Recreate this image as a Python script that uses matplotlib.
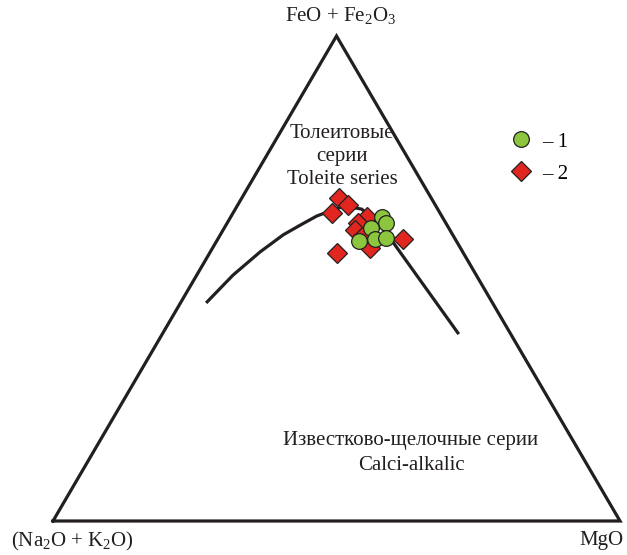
import numpy as np
import matplotlib.pyplot as plt

# AFM diagram: F = FeO + Fe2O3, A = Na2O + K2O, M = MgO (percent)
grp1_F = [62.7, 61.4, 60.4, 57.7, 58.1, 58.4]
grp1_A = [10.6, 10.6, 13.7, 17.2, 14.2, 12.1]
grp1_M = [26.7, 28.0, 25.9, 25.1, 27.7, 29.5]

grp2_F = [66.6, 65.2, 63.5, 62.7, 61.4, 60.0, 56.3, 58.1, 55.3, 58.6]
grp2_A = [16.3, 15.4, 19.1, 13.2, 15.5, 16.7, 15.9, 9.3, 22.2, 16.2]
grp2_M = [17.1, 19.4, 17.4, 24.1, 23.1, 23.3, 27.8, 32.6, 22.5, 25.2]

# tholeiite / calc-alkaline boundary
line_F = [45.2, 50.7, 55.5, 59.0, 61.0, 62.9, 63.9, 64.9, 64.3, 61.6, 57.5, 38.8]
line_A = [50.2, 42.9, 35.7, 29.9, 25.9, 22.0, 19.2, 16.0, 13.4, 11.9, 11.3, 9.2]
line_M = [4.6, 6.4, 8.8, 11.1, 13.1, 15.1, 16.9, 19.0, 22.3, 26.5, 31.2, 52.0]

plt.rcParams['font.family'] = ['Liberation Serif', 'DejaVu Serif']
plt.rcParams['mathtext.fontset'] = 'custom'
plt.rcParams['mathtext.rm'] = 'Liberation Serif'
plt.rcParams['mathtext.it'] = 'Liberation Serif:italic'

h = np.sqrt(3) / 2


def tern(F, A, M):
    F, A, M = np.asarray(F, float), np.asarray(A, float), np.asarray(M, float)
    s = F + A + M
    F, M = F / s, M / s
    return M + F / 2, F * h


W, H = 627, 555
fig = plt.figure(figsize=(W / 100, H / 100), dpi=100)
ax = fig.add_axes([0, 0, 1, 1])
sx = 567
sy = 485 / h
ax.set_xlim(-53 / sx, (W - 53) / sx)
ax.set_ylim(-(H - 521) / sy, 521 / sy)
ax.axis('off')

dark = '#231f20'
tx, ty = tern([0, 0, 100, 0], [100, 0, 0, 100], [0, 100, 0, 0])
ax.plot(tx, ty, color=dark, lw=2.3, solid_joinstyle='miter', zorder=1)

lx, ly = tern(line_F, line_A, line_M)
ax.plot(lx, ly, color=dark, lw=2.3, zorder=2, solid_joinstyle='round')

x2, y2 = tern(grp2_F, grp2_A, grp2_M)
ax.plot(x2, y2, 'D', ms=10.3, mfc='#e0261f', mec=dark, mew=0.9, ls='none',
        zorder=3, label='– 2')
x1, y1 = tern(grp1_F, grp1_A, grp1_M)
ax.plot(x1, y1, 'o', ms=11.3, mfc='#8cc63e', mec=dark, mew=0.9, ls='none',
        zorder=4, label='– 1')

h_, l_ = ax.get_legend_handles_labels()
ax.legend(h_[::-1], l_[::-1], loc='upper left', frameon=False, fontsize=15,
          bbox_to_anchor=(500 / W, 1 - 132 / H), bbox_transform=fig.transFigure,
          handletextpad=0.0, labelspacing=0.6, borderaxespad=0, borderpad=0)


def ftext(x, y, s, **kw):
    fig.text(x / W, 1 - y / H, s, ha='center', va='center', fontsize=15,
             color=dark, **kw)


ftext(341, 16, r'FeO + Fe$_2$O$_3$')
ftext(72, 541, r'(Na$_2$O + K$_2$O)')
ftext(601, 541, 'MgO')
ftext(342, 133, 'Толеитовые')
ftext(342, 157, 'серии')
ftext(342, 180, 'Toleite series')
ftext(411, 441, 'Известково-щелочные серии')
ftext(411, 465, 'Calci-alkalic')

fig.savefig('out.png', dpi=100)
